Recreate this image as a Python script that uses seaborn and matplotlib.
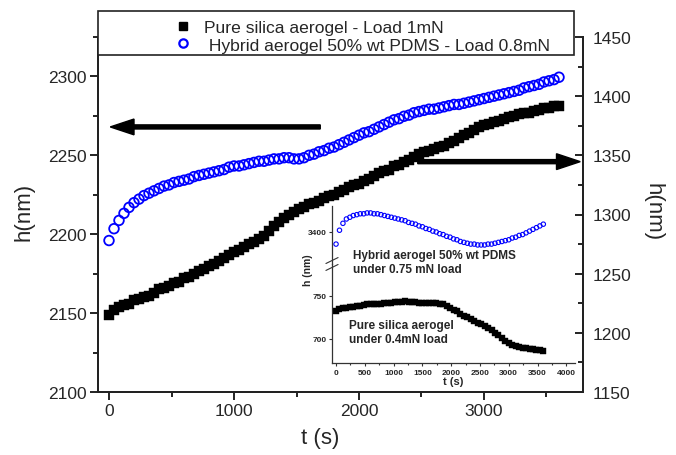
import numpy as np
import pandas as pd
import matplotlib
matplotlib.use("Agg")
import matplotlib.pyplot as plt
from matplotlib.lines import Line2D
from matplotlib.patches import Rectangle
from matplotlib.ticker import MultipleLocator
import seaborn as sns

# main plot: time (s) and depth h (nm)
t_main = [0, 40, 80, 120, 160, 200, 240, 280, 320, 360, 400, 440, 480, 520, 560, 600,
          640, 680, 720, 760, 800, 840, 880, 920, 960, 1000, 1040, 1080, 1120, 1160, 1200,
          1240, 1280, 1320, 1360, 1400, 1440, 1480, 1520, 1560, 1600, 1640, 1680, 1720,
          1760, 1800, 1840, 1880, 1920, 1960, 2000, 2040, 2080, 2120, 2160, 2200, 2240,
          2280, 2320, 2360, 2400, 2440, 2480, 2520, 2560, 2600, 2640, 2680, 2720, 2760,
          2800, 2840, 2880, 2920, 2960, 3000, 3040, 3080, 3120, 3160, 3200, 3240, 3280,
          3320, 3360, 3400, 3440, 3480, 3520, 3560, 3600]

# pure silica aerogel, load 1 mN (left axis)
h_silica = [2149, 2152, 2154, 2155, 2156, 2158, 2159, 2160, 2161, 2163, 2165, 2166, 2167,
            2169, 2170, 2172, 2173, 2175, 2177, 2178, 2180, 2181, 2183, 2185, 2187, 2189,
            2190, 2192, 2194, 2195, 2197, 2199, 2202, 2205, 2208, 2210, 2212, 2214, 2216,
            2217, 2219, 2220, 2221, 2223, 2224, 2225, 2227, 2228, 2230, 2231, 2232, 2234,
            2235, 2237, 2239, 2240, 2241, 2243, 2244, 2246, 2247, 2249, 2251, 2252, 2253,
            2254, 2255, 2256, 2258, 2259, 2261, 2263, 2264, 2266, 2268, 2269, 2270, 2271,
            2272, 2273, 2274, 2275, 2276, 2277, 2277, 2278, 2279, 2280, 2280, 2281, 2281]

# hybrid aerogel 50% wt PDMS, load 0.8 mN (right axis)
h_hybrid = [1278, 1288, 1295, 1301, 1306, 1310, 1313, 1316, 1318, 1320, 1322, 1324, 1325,
            1327, 1328, 1329, 1330, 1332, 1333, 1334, 1335, 1336, 1337, 1338, 1340, 1341,
            1341, 1342, 1343, 1344, 1345, 1345, 1346, 1347, 1347, 1348, 1348, 1347, 1347,
            1348, 1350, 1351, 1353, 1354, 1356, 1357, 1359, 1361, 1363, 1365, 1367, 1369,
            1370, 1372, 1374, 1376, 1378, 1380, 1381, 1383, 1384, 1386, 1387, 1388, 1389,
            1389, 1390, 1391, 1392, 1393, 1393, 1394, 1395, 1396, 1397, 1398, 1399, 1400,
            1401, 1402, 1403, 1404, 1405, 1407, 1408, 1409, 1410, 1412, 1413, 1414, 1416]

# inset
t_inset = [0, 60, 120, 180, 240, 300, 360, 420, 480, 540, 600, 660, 720, 780, 840, 900,
           960, 1020, 1080, 1140, 1200, 1260, 1320, 1380, 1440, 1500, 1560, 1620, 1680,
           1740, 1800, 1860, 1920, 1980, 2040, 2100, 2160, 2220, 2280, 2340, 2400, 2460,
           2520, 2580, 2640, 2700, 2760, 2820, 2880, 2940, 3000, 3060, 3120, 3180, 3240,
           3300, 3360, 3420, 3480, 3540, 3600]
h_inset_hybrid = [3386, 3402, 3410, 3415, 3417, 3419, 3420, 3421, 3421, 3422, 3422, 3421,
                  3421, 3420, 3419, 3418, 3417, 3416, 3415, 3414, 3413, 3411, 3410, 3409,
                  3407, 3406, 3404, 3403, 3401, 3400, 3398, 3397, 3395, 3394, 3392, 3391,
                  3389, 3388, 3387, 3386, 3386, 3385, 3385, 3385, 3386, 3386, 3387, 3388,
                  3389, 3390, 3391, 3393, 3394, 3396, 3397, 3399, 3401, 3403, 3405, 3407, 3409]
h_inset_silica = [732, 735, 736, 736, 737, 737, 738, 738, 739, 740, 740, 741, 741, 741,
                  742, 742, 742, 743, 743, 743, 744, 743, 743, 743, 742, 742, 742, 742,
                  742, 742, 741, 740, 738, 736, 734, 732, 729, 727, 725, 723, 721, 719,
                  717, 715, 713, 710, 707, 704, 701, 698, 695, 693, 692, 691, 690, 689,
                  688, 688, 687, 687, 686]

legend_labels = ["Pure silica aerogel - Load 1mN", " Hybrid aerogel 50% wt PDMS - Load 0.8mN"]

sns.set_theme(style="ticks")
plt.rcParams["font.family"] = ["Liberation Sans", "DejaVu Sans"]

W, H = 676, 456
fig = plt.figure(figsize=(W / 100, H / 100), dpi=100)

def box(x0, y0, x1, y1):
    # pixel box (top-left origin) -> figure fraction
    return [x0 / W, 1 - y1 / H, (x1 - x0) / W, (y1 - y0) / H]

ax = fig.add_axes(box(98, 38, 583, 393))
ax2 = ax.twinx()

sns.scatterplot(x=t_main, y=h_silica, ax=ax, marker="s", color="black", s=48,
                edgecolor="black", linewidth=0.3, zorder=3)
sns.scatterplot(x=t_main, y=h_hybrid, ax=ax2, marker="o", color="blue",
                facecolors="none", edgecolor="blue", s=48, linewidth=1.3, zorder=3)

ax.set_xlim(-88, 3792)
ax.set_ylim(2100, 2325)
ax2.set_ylim(1150, 1450)

ax.set_xticks([0, 1000, 2000, 3000])
ax.xaxis.set_minor_locator(MultipleLocator(500))
ax.set_yticks([2100, 2150, 2200, 2250, 2300])
ax.yaxis.set_minor_locator(MultipleLocator(25))
ax2.set_yticks([1150, 1200, 1250, 1300, 1350, 1400, 1450])
ax2.yaxis.set_minor_locator(MultipleLocator(25))

for a in (ax, ax2):
    a.spines["top"].set_visible(False)
    for s in a.spines.values():
        s.set_linewidth(1.4)
        s.set_color("#222222")
ax.tick_params(axis="both", which="major", direction="out", length=6, width=1.4,
               labelsize=12.5, pad=2, color="#222222")
ax.tick_params(axis="both", which="minor", direction="out", length=3.5, width=1.4,
               color="#222222")
ax2.tick_params(axis="y", which="major", direction="in", length=6, width=1.4,
                labelsize=12.5, pad=7, color="#222222")
ax2.tick_params(axis="y", which="minor", direction="in", length=3.5, width=1.4,
                color="#222222")

ax.set_xlabel("t (s)", fontsize=16)
ax.set_ylabel("h(nm)", fontsize=16)
ax2.set_ylabel("h(nm)", fontsize=16, rotation=270)
ax.xaxis.set_label_coords((320 - 98) / 485, -0.10)
ax.yaxis.set_label_coords(-0.13, 0.51)
ax2.yaxis.set_label_coords(1.165, 0.51)

# arrows pointing to each axis
ax.arrow(1690, 2268, -1680, 0, width=2.6, head_width=10, head_length=190,
         length_includes_head=True, color="black", zorder=4)
ax.arrow(2470, 2246, 1300, 0, width=2.6, head_width=10, head_length=190,
         length_includes_head=True, color="black", zorder=4, clip_on=False)

# legend box across the top
fig.add_artist(Rectangle((98 / W, 1 - 56 / H), (574 - 98) / W, 44 / H,
                         transform=fig.transFigure, facecolor="white",
                         edgecolor="#222222", linewidth=1.2))
handles = [Line2D([], [], marker="s", color="black", linestyle="", markersize=6),
           Line2D([], [], marker="o", color="blue", markerfacecolor="none",
                  markeredgewidth=1.6, linestyle="", markersize=6)]
fig.legend(handles, legend_labels, loc="upper left", bbox_to_anchor=(175 / W, 1 - 21 / H),
           frameon=False, fontsize=12.6, handlelength=0.9, handletextpad=0.75,
           borderpad=0, borderaxespad=0, labelspacing=0.12)

# inset with broken y axis
axt = fig.add_axes(box(332, 207, 575, 265))
axb = fig.add_axes(box(332, 265, 575, 364))
for a in (axt, axb):
    a.set_facecolor("none")
    a.spines["top"].set_visible(False)
    a.spines["right"].set_visible(False)
    for s in a.spines.values():
        s.set_linewidth(0.9)
        s.set_color("#333333")
    a.set_xlim(-70, 4150)
axt.spines["bottom"].set_visible(False)

sns.scatterplot(x=t_inset, y=h_inset_hybrid, ax=axt, marker="o", color="blue",
                facecolors="none", edgecolor="blue", s=10, linewidth=0.8)
sns.scatterplot(x=t_inset, y=h_inset_silica, ax=axb, marker="s", color="black",
                s=16, edgecolor="black", linewidth=0.3)

axt.set_ylim(3363, 3430)
axb.set_ylim(672, 787)
axt.set_yticks([3400])
axt.set_xticks([])
axb.set_yticks([700, 750])
axb.set_xticks(range(0, 4001, 500))
axb.xaxis.set_minor_locator(MultipleLocator(250))
for a in (axt, axb):
    a.tick_params(which="major", direction="out", length=2.5, width=0.8, labelsize=6,
                  pad=1.5, color="#333333")
    a.tick_params(which="minor", direction="out", length=1.5, width=0.8, color="#333333")
    for lab in a.get_xticklabels() + a.get_yticklabels():
        lab.set_fontweight("bold")
axt.set_xlabel("")
axt.set_ylabel("")
axb.set_ylabel("")
axb.set_xlabel("t (s)", fontsize=8, fontweight="bold", labelpad=0)

# break marks on the inset y axis
for dy in (-0.035, 0.035):
    axb.plot([-0.025, 0.025], [1 + dy - 0.03, 1 + dy + 0.03], transform=axb.transAxes,
             color="#333333", lw=0.8, clip_on=False)

fig.text(308 / W, 1 - 270 / H, "h (nm)", rotation=90, fontsize=7.5, fontweight="bold",
         ha="center", va="center")
fig.text(353 / W, 1 - 250 / H, "Hybrid aerogel 50% wt PDMS\nunder 0.75 mN load",
         fontsize=8.5, fontweight="bold", ha="left", va="top", linespacing=1.25)
fig.text(349 / W, 1 - 320 / H, "Pure silica aerogel\nunder 0.4mN load",
         fontsize=8.5, fontweight="bold", ha="left", va="top", linespacing=1.25)

fig.savefig("out.png", dpi=100)
